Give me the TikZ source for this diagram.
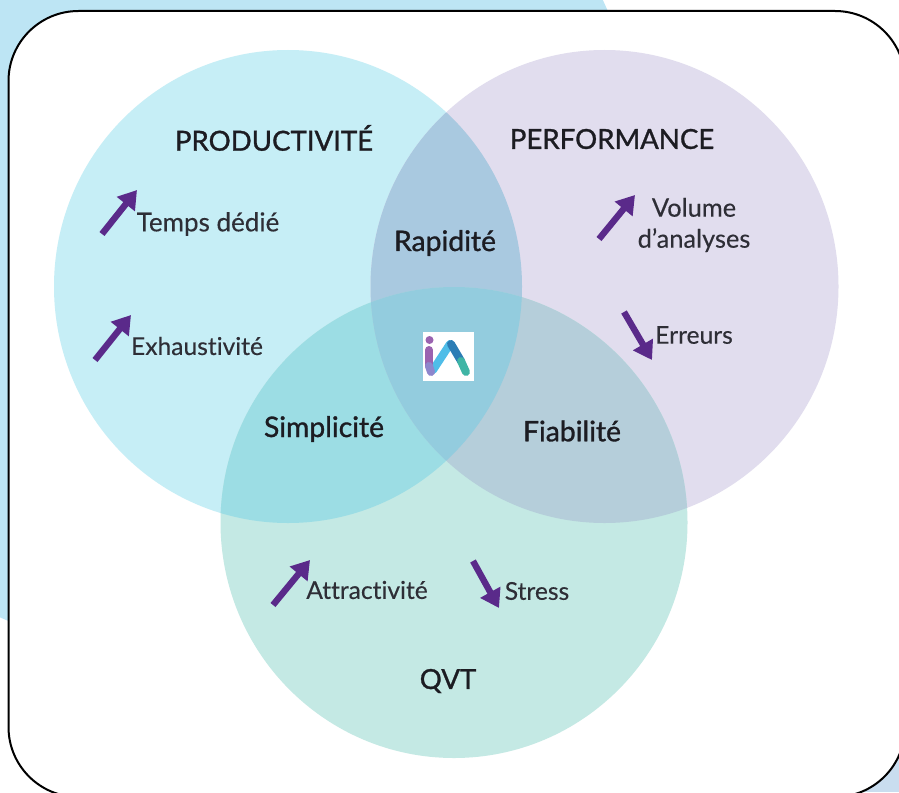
\documentclass[tikz,border=0pt]{standalone}
\usepackage{fontspec}
\setmainfont{Lato}[Ligatures=NoCommon]
\newfontfamily\headfont{Lato}[Ligatures=NoCommon,FakeBold=1.1]
\newfontfamily\itemfont{Lato}[Ligatures=NoCommon,FakeBold=0.25]
\usetikzlibrary{arrows.meta}
\definecolor{bgblue}{HTML}{BDE5F4}
\definecolor{bgcorner}{HTML}{C9DDEF}
\definecolor{cblue}{HTML}{C6EEF6}
\definecolor{cpurple}{HTML}{E1DDEE}
\definecolor{cgreen}{HTML}{C4E9E4}
\definecolor{bp}{HTML}{A9C9E0}
\definecolor{bg}{HTML}{9CDDE4}
\definecolor{pg}{HTML}{B5CEDA}
\definecolor{bpg}{HTML}{93CCDE}
\definecolor{arrowpurple}{HTML}{5A2A8A}
\definecolor{ink}{HTML}{1C1C22}
\definecolor{itemink}{HTML}{2E2E36}
\definecolor{logoA}{HTML}{9A63B0}
\definecolor{logoB}{HTML}{8E86CC}
\definecolor{logoC}{HTML}{4FBDE8}
\definecolor{logoD}{HTML}{2C7DB5}
\definecolor{logoE}{HTML}{3FB5A5}
\tikzset{
  x=1pt,y=-1pt,
  title/.style={font=\headfont\fontsize{28.3}{30}\selectfont,text=ink,inner sep=0pt,align=center},
  caps/.style={font=\headfont\fontsize{27.6}{30}\selectfont,text=ink,inner sep=0pt,align=center},
  item/.style={font=\itemfont\fontsize{24.6}{31}\selectfont,text=itemink,inner sep=0pt,align=center},
  trend/.style={draw=arrowpurple,line width=6.4pt,-{Triangle[length=18pt,width=22pt]}},
  logostroke/.style={line width=8pt,line cap=round,line join=round},
}
\newcommand{\blueshape}{(288,286.5) ellipse [x radius=234,y radius=236.5]}
\newcommand{\purpleshape}{(604.5,286.5) ellipse [x radius=234,y radius=236.5]}
\newcommand{\greenshape}{(454,522.5) ellipse [x radius=233.5,y radius=235.5]}
\begin{document}
\begin{tikzpicture}
\useasboundingbox (0,0) rectangle (899,792);
\clip (0,0) rectangle (899,792);
% page background
\fill[bgblue] (185,195) circle [radius=461];
\fill[bgcorner] (820,740) rectangle (899,792);
% rounded frame
\draw[black,line width=2pt,fill=white,rounded corners=70pt] (8.5,11) rectangle (905,797);
% circles
\fill[cblue] \blueshape;
\fill[cpurple] \purpleshape;
\fill[cgreen] \greenshape;
\begin{scope}\clip \blueshape; \fill[bp] \purpleshape;\end{scope}
\begin{scope}\clip \blueshape; \fill[bg] \greenshape;\end{scope}
\begin{scope}\clip \purpleshape; \fill[pg] \greenshape;\end{scope}
\begin{scope}\clip \blueshape; \clip \purpleshape; \fill[bpg] \greenshape;\end{scope}
% logo
\node[fill=white,minimum width=51pt,minimum height=49pt,inner sep=0pt] (logo) at (448.5,356.5) {};
\fill[logoA] (429.5,340) circle [radius=4];
\draw[logostroke,draw=logoC] (433,370) -- (450,344);
\draw[logostroke,draw=logoA] (429,350) -- (429,366);
\draw[logostroke,draw=logoB] (429,366) -- (431,372);
\draw[logostroke,draw=logoD] (451,344) -- (461,361);
\draw[logostroke,draw=logoE] (461,361) -- (466,372);
% titles
\node[caps] (prod) at (274,138) {PRODUCTIVITÉ};
\node[caps] (perf) at (612,139) {PERFORMANCE};
\node[title] (rap) at (445,243) {Rapidité};
\node[title] (simp) at (324,429) {Simplicité};
\node[title] (fiab) at (572,431) {Fiabilité};
\node[caps] (qvt) at (448,681) {QVT};
% items
\node[item,font=\itemfont\fontsize{26}{31}\selectfont] (temps) at (208,224) {Temps dédié};
\node[item,font=\itemfont\fontsize{25.4}{31}\selectfont] (volume) at (694,225) {Volume\\d’analyses};
\node[item] (exh) at (197,346) {Exhaustivité};
\node[item] (err) at (694,335) {Erreurs};
\node[item] (attr) at (367,590) {Attractivité};
\node[item] (stress) at (537,591) {Stress};
% trend arrows
\coordinate (a1s) at (102,234); \coordinate (a1e) at (137,190);
\coordinate (a2s) at (95,360); \coordinate (a2e) at (131,315);
\coordinate (a3s) at (599,239); \coordinate (a3e) at (635,195);
\coordinate (a4s) at (624,312); \coordinate (a4e) at (652,360);
\coordinate (a5s) at (273,605); \coordinate (a5e) at (310,560);
\coordinate (a6s) at (473,561); \coordinate (a6e) at (499,608);
\draw[trend] (a1s) -- (a1e);
\draw[trend] (a2s) -- (a2e);
\draw[trend] (a3s) -- (a3e);
\draw[trend] (a4s) -- (a4e);
\draw[trend] (a5s) -- (a5e);
\draw[trend] (a6s) -- (a6e);
\end{tikzpicture}
\end{document}
